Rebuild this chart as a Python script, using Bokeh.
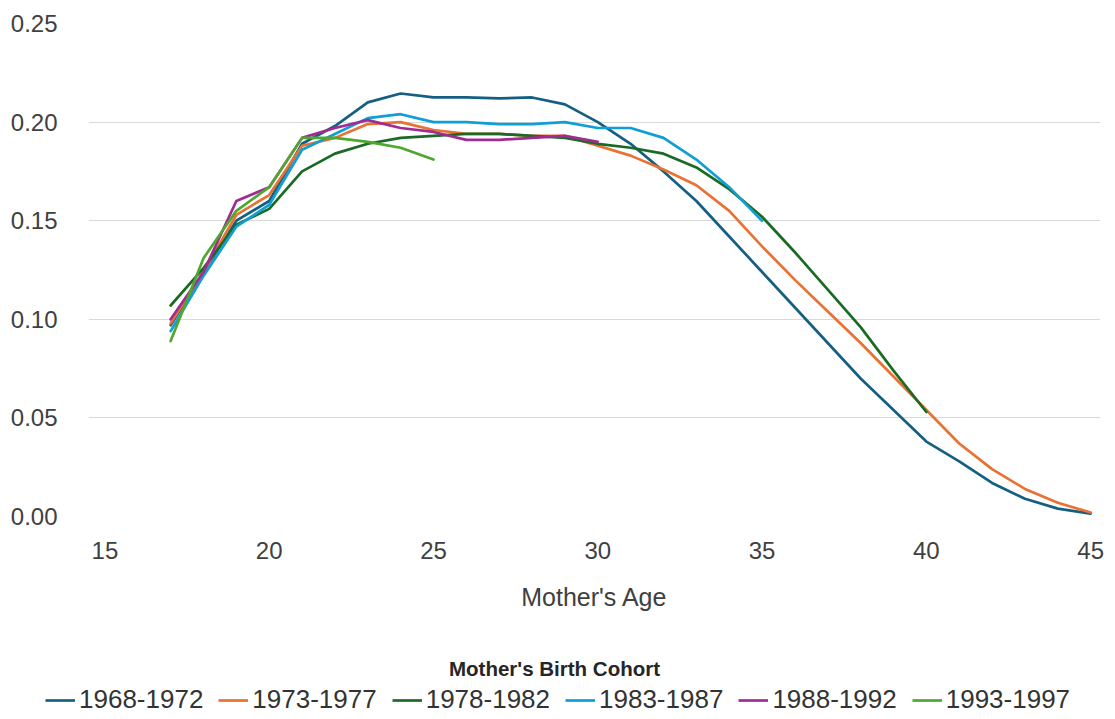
from bokeh.plotting import figure
from bokeh.layouts import column
from bokeh.models import Range1d, Legend, LegendItem, FixedTicker, NumeralTickFormatter
from bokeh.embed import file_html
from bokeh.resources import INLINE

# ---- data ----
cohorts = ["1968-1972", "1973-1977", "1978-1982", "1983-1987", "1988-1992", "1993-1997"]
colors = ["#156082", "#E97132", "#196B24", "#0F9ED5", "#A02B93", "#4EA72E"]
start_age = 17

c1968 = [0.097, 0.124, 0.150, 0.160, 0.189, 0.198, 0.210, 0.2145, 0.2125, 0.2125,
         0.212, 0.2125, 0.209, 0.200, 0.189, 0.175, 0.160, 0.142, 0.124, 0.106,
         0.088, 0.070, 0.054, 0.038, 0.028, 0.017, 0.009, 0.004, 0.0015]
c1973 = [0.098, 0.124, 0.153, 0.163, 0.188, 0.192, 0.199, 0.200, 0.196, 0.194,
         0.194, 0.193, 0.193, 0.188, 0.183, 0.176, 0.168, 0.155, 0.137, 0.120,
         0.104, 0.088, 0.071, 0.054, 0.037, 0.024, 0.014, 0.007, 0.002]
c1978 = [0.107, 0.126, 0.148, 0.156, 0.175, 0.184, 0.189, 0.192, 0.193, 0.194,
         0.194, 0.193, 0.192, 0.189, 0.187, 0.184, 0.177, 0.166, 0.152, 0.134,
         0.115, 0.096, 0.074, 0.053]
c1983 = [0.094, 0.122, 0.147, 0.158, 0.186, 0.194, 0.202, 0.204, 0.200, 0.200,
         0.199, 0.199, 0.200, 0.197, 0.197, 0.192, 0.181, 0.167, 0.150]
c1988 = [0.100, 0.124, 0.160, 0.167, 0.192, 0.197, 0.201, 0.197, 0.195, 0.191,
         0.191, 0.192, 0.193, 0.190]
c1993 = [0.089, 0.131, 0.155, 0.167, 0.192, 0.192, 0.190, 0.187, 0.181]

series = [c1968, c1973, c1978, c1983, c1988, c1993]
x_ticks = [15, 20, 25, 30, 35, 40, 45]
y_ticks = [0.0, 0.05, 0.10, 0.15, 0.20, 0.25]

FONT = "Liberation Sans"
TXT = "#404040"
LW = 2.7
W = 1108

# ---------------- main chart ----------------
p = figure(width=W, height=648,
           x_range=Range1d(14.5, 45.3), y_range=Range1d(0, 0.25),
           output_backend="svg", toolbar_location=None,
           min_border_left=88, min_border_right=8, min_border_top=23,
           min_border_bottom=132)
p.outline_line_color = None
p.background_fill_color = "white"
p.border_fill_color = "white"

for name, col, vals in zip(cohorts, colors, series):
    ages = list(range(start_age, start_age + len(vals)))
    p.line(ages, vals, line_color=col, line_width=LW, line_join="round", line_cap="round")

p.xgrid.visible = False
p.ygrid.grid_line_color = "#d9d9d9"
p.ygrid.grid_line_width = 1
p.ygrid.ticker = FixedTicker(ticks=y_ticks)

ya = p.yaxis[0]
ya.ticker = FixedTicker(ticks=y_ticks)
ya.formatter = NumeralTickFormatter(format="0.00")
ya.axis_line_color = None
ya.major_tick_line_color = None
ya.minor_tick_line_color = None
ya.major_label_standoff = 25
ya.major_label_text_font = FONT
ya.major_label_text_font_size = "24px"
ya.major_label_text_color = TXT

xa = p.xaxis[0]
xa.ticker = FixedTicker(ticks=x_ticks)
xa.axis_line_color = None
xa.major_tick_line_color = None
xa.minor_tick_line_color = None
xa.major_label_standoff = 19
xa.major_label_text_font = FONT
xa.major_label_text_font_size = "24px"
xa.major_label_text_color = TXT
xa.axis_label = "Mother's Age"
xa.axis_label_standoff = 21
xa.axis_label_text_font = FONT
xa.axis_label_text_font_size = "25px"
xa.axis_label_text_font_style = "normal"
xa.axis_label_text_color = TXT

# ---------------- legend strip ----------------
q = figure(width=W, height=71, x_range=Range1d(0, 1), y_range=Range1d(0, 1),
           x_axis_type=None, y_axis_type=None,
           output_backend="svg", toolbar_location=None,
           min_border_left=0, min_border_right=0, min_border_top=35,
           min_border_bottom=0)
for m in (p, q):
    if "frame_align" in m.properties():
        m.frame_align = False
q.outline_line_color = None
q.grid.visible = False
q.title.text = "Mother's Birth Cohort"
q.title.align = "center"
q.title.standoff = 8
q.title.text_font = FONT
q.title.text_font_size = "20.5px"
q.title.text_font_style = "bold"
q.title.text_color = "#262626"

# same series, drawn outside this strip's visible x range, so only the legend shows
items = []
for name, col, vals in zip(cohorts, colors, series):
    ages = list(range(start_age, start_age + len(vals)))
    r = q.line(ages, vals, line_color=col, line_width=LW)
    items.append(LegendItem(label=name, renderers=[r]))

legend = Legend(items=items, orientation="horizontal", location=(45, 4),
                label_text_font=FONT, label_text_font_size="26px",
                label_text_color="#333333", glyph_width=30, glyph_height=20,
                label_standoff=4, spacing=15, padding=0, margin=0,
                border_line_color=None, background_fill_alpha=0)
q.add_layout(legend, "center")

page = column(p, q, spacing=0)
open("out.html", "w").write(file_html(page, INLINE))
